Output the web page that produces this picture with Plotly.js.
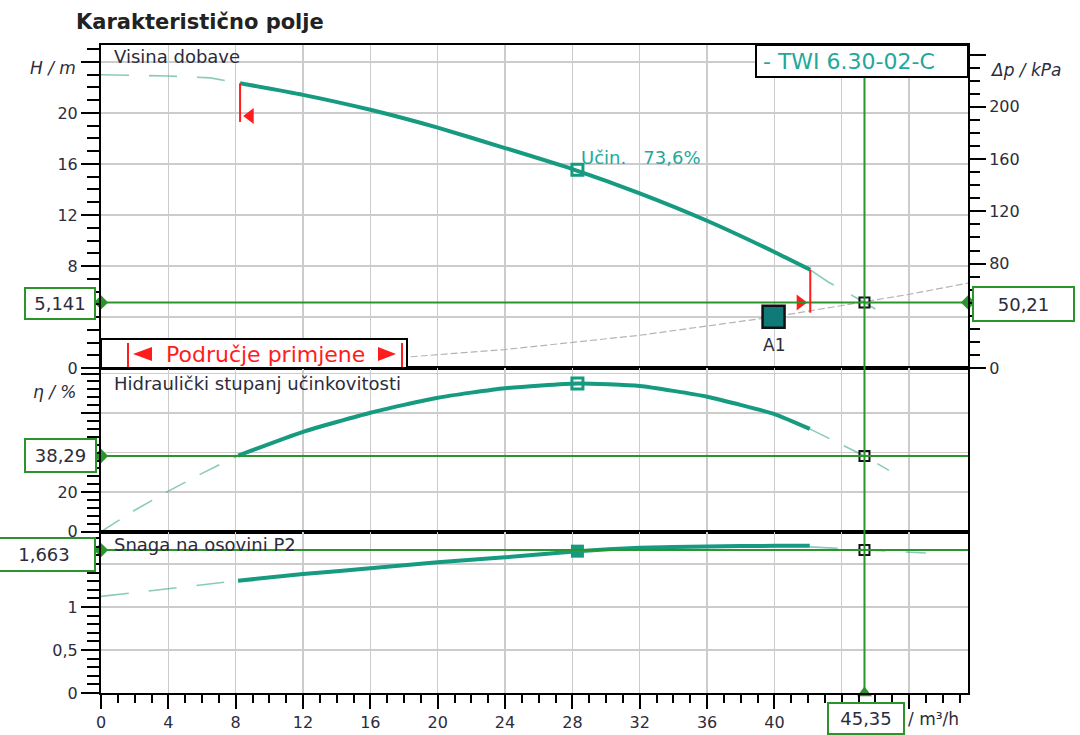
<!DOCTYPE html>
<html><head><meta charset="utf-8">
<script src="https://cdn.plot.ly/plotly-3.0.1.min.js"></script>
<style>html,body{margin:0;padding:0;background:#fff}#chart{width:1080px;height:735px}</style>
</head><body><div id="chart"></div>
<script>
// ---------- data ----------
const flowTicks = [0, 4, 8, 12, 16, 20, 24, 28, 32, 36, 40, 44, 48];
const flowTickText = ['0', '4', '8', '12', '16', '20', '24', '28', '32', '36', '40', '', ''];
const headTicks = [0, 4, 8, 12, 16, 20, 24];
const headTickText = ['0', '', '8', '12', '16', '20', ''];
const dpTicks = [0, 40, 80, 120, 160, 200, 240];
const dpTickText = ['0', '', '80', '120', '160', '200', ''];
const etaTicks = [0, 20, 40, 60, 80];
const etaTickText = ['0', '20', '', '', ''];
const powerTicks = [0, 0.5, 1, 1.5];
const powerTickText = ['0', '0,5', '1', ''];

// pump head curve H(Q)
const headQ = [8.26, 12, 16, 20, 24, 28, 32, 36, 40, 42.13];
const headH = [22.33, 21.42, 20.25, 18.85, 17.25, 15.6, 13.7, 11.55, 9.1, 7.7];
const headDashLeftQ = [0, 4, 6.5, 8.26];
const headDashLeftH = [23.0, 22.9, 22.75, 22.33];
const headDashRightQ = [42.13, 43.2, 45.35, 46.9];
const headDashRightH = [7.7, 6.75, 5.141, 3.9];

// system curve
const systemQ = [0, 8, 16, 24, 32, 40, 48, 51.5];
const systemH = [0, 0.16, 0.64, 1.45, 2.57, 4.02, 5.78, 6.66];

// hydraulic efficiency
const etaQ = [8.15, 12, 16, 20, 24, 28.3, 32, 36, 40, 42.1];
const etaV = [38.5, 50.5, 60.2, 67.8, 72.6, 75.0, 73.7, 68.3, 59.5, 52.0];
const etaDashLeftQ = [0, 2, 4, 6, 8.15];
const etaDashLeftV = [0, 10.8, 20.5, 29.5, 38.5];
const etaDashRightQ = [42.1, 45.35, 46.8];
const etaDashRightV = [52.0, 38.29, 31.0];

// shaft power P2
const powerQ = [8.14, 12, 16, 20, 24, 28.3, 32, 36, 40, 42.1];
const powerP = [1.306, 1.384, 1.45, 1.52, 1.578, 1.65, 1.69, 1.705, 1.712, 1.712];
const powerDashLeftQ = [0, 4, 8.14];
const powerDashLeftP = [1.124, 1.216, 1.306];
const powerDashRightQ = [42.1, 45.35, 49.0];
const powerDashRightP = [1.70, 1.663, 1.628];

// operating point, best point, A1, application range
const opQ = 45.35, opH = 5.141, opDp = 50.21, opEta = 38.29, opP = 1.663;
const bepQ = 28.3, bepH = 15.55, bepEta = 75.0, bepP = 1.65;
const bepLabel = 'Učin.\u00a0\u00a0 73,6%';
const a1Q = 39.95, a1H = 4.02;
const rangeMinQ = 8.26, rangeMaxQ = 42.13;
const rangeMinH = [19.3, 22.33], rangeMaxH = [4.34, 7.7];
const pumpName = '- TWI 6.30-02-C';
const rangeLabel = 'Područje primjene';
const dpPerM = opDp / opH;

// ---------- styling ----------
const TEAL = '#169a80', TEAL_D = 'rgba(40,160,130,0.55)', GREEN = '#2b952b', RED = '#ff1c1c';
const TXT = '#2c2c3c', FONT = 'DejaVu Sans, Verdana, sans-serif';
const W = 1080, H = 735, ML = 101, MR = 112, MT = 45, MB = 42;
const PW = W - ML - MR, PH = H - MT - MB;
const px = v => (v - ML) / PW;          // pixel -> paper x
const py = v => (H - MB - v) / PH;      // pixel -> paper y
const fmt = v => String(v).replace('.', ',');
const xMax = 51.5;
const topD = [0.5015, 1], midD = [0.249, 0.5015], botD = [0, 0.249];
const hMax = 25.33, etaMax = 82.8, pMax = 1.877;

const gridAx = {showgrid: true, gridcolor: '#cccccc', gridwidth: 1.5, zeroline: false,
  showline: true, linecolor: '#000', linewidth: 2, mirror: true, fixedrange: true,
  tickfont: {family: FONT, size: 16, color: TXT}, tickcolor: '#000', tickwidth: 2};
const yAx = (range, dom, tv, tt, md, anchor) => Object.assign({}, gridAx, {
  domain: dom, range: range, anchor: anchor, tickmode: 'array', tickvals: tv, ticktext: tt,
  ticks: 'outside', ticklen: 18,
  minor: {tickmode: 'linear', tick0: 0, dtick: md, ticks: 'outside', ticklen: 12, tickwidth: 2, tickcolor: '#000', showgrid: false}
});
const xAx = (anchor, show) => Object.assign({}, gridAx, {
  range: [0, xMax], anchor: anchor, domain: [0, 1], tickmode: 'array', tickvals: flowTicks,
  ticktext: flowTickText, showticklabels: show, ticks: show ? 'outside' : '', ticklen: 14,
  minor: show ? {tickmode: 'linear', tick0: 0, dtick: 1, ticks: 'outside', ticklen: 8, tickwidth: 2, tickcolor: '#000', showgrid: false} : undefined
});

const line = (x, y, xa, ya, dashed, extra) => Object.assign({
  type: 'scatter', mode: 'lines', x: x, y: y, xaxis: xa, yaxis: ya, hoverinfo: 'skip',
  line: dashed ? {color: TEAL_D, width: 1.6, dash: '28px,20px'} : {color: TEAL, width: 4, shape: 'spline', smoothing: 0.5}
}, extra || {});
const mk = (x, y, xa, ya, marker) => ({type: 'scatter', mode: 'markers', x: x, y: y, xaxis: xa, yaxis: ya,
  marker: marker, cliponaxis: false, hoverinfo: 'skip'});

const traces = [
  line(systemQ, systemH, 'x', 'y', false, {line: {color: '#b4b4b4', width: 1.2, dash: '7px,3px'}}),
  line(headDashLeftQ, headDashLeftH, 'x', 'y', true),
  line(headDashRightQ, headDashRightH, 'x', 'y', true),
  line(headQ, headH, 'x', 'y', false),
  mk([bepQ], [bepH], 'x', 'y', {symbol: 'square-open', size: 11, color: TEAL, line: {width: 3, color: TEAL}}),
  mk([a1Q], [a1H], 'x', 'y', {symbol: 'square', size: 22, color: '#0f7a78', line: {width: 2.5, color: '#111'}}),
  mk([rangeMinQ + 0.6], [19.76], 'x', 'y', {symbol: 'triangle-left', size: 14, color: RED}),
  mk([rangeMaxQ - 0.6], [opH], 'x', 'y', {symbol: 'triangle-right', size: 14, color: RED}),
  mk([xMax], [opDp], 'x', 'y4', {symbol: 'diamond', size: 11, color: GREEN}),
  line(etaDashLeftQ, etaDashLeftV, 'x2', 'y2', true, {line: {color: TEAL_D, width: 1.6, dash: '22px,16px'}}),
  line(etaDashRightQ, etaDashRightV, 'x2', 'y2', true, {line: {color: TEAL_D, width: 1.6, dash: '22px,16px'}}),
  line(etaQ, etaV, 'x2', 'y2', false),
  mk([bepQ], [bepEta], 'x2', 'y2', {symbol: 'square-open', size: 11, color: TEAL, line: {width: 3, color: TEAL}}),
  line(powerDashLeftQ, powerDashLeftP, 'x3', 'y3', true),
  line(powerDashRightQ, powerDashRightP, 'x3', 'y3', true),
  line(powerQ, powerP, 'x3', 'y3', false),
  mk([bepQ], [bepP], 'x3', 'y3', {symbol: 'square', size: 13, color: TEAL}),
  mk([0], [opH], 'x', 'y', {symbol: 'diamond', size: 11, color: GREEN}),
  mk([0], [opEta], 'x2', 'y2', {symbol: 'diamond', size: 11, color: GREEN}),
  mk([0], [opP], 'x3', 'y3', {symbol: 'diamond', size: 11, color: GREEN}),
  mk([opQ], [0], 'x3', 'y3', {symbol: 'triangle-up', size: 13, color: GREEN}),
  mk([opQ], [opH], 'x', 'y', {symbol: 'square-open', size: 10, color: '#111', line: {width: 2, color: '#111'}}),
  mk([opQ], [opEta], 'x2', 'y2', {symbol: 'square-open', size: 10, color: '#111', line: {width: 2, color: '#111'}}),
  mk([opQ], [opP], 'x3', 'y3', {symbol: 'square-open', size: 10, color: '#111', line: {width: 2, color: '#111'}})
];

// red arrow-head path in paper coordinates (pixel based)
const tri = (xTip, xBase, yc, hh) => 'M ' + px(xTip) + ' ' + py(yc) + ' L ' + px(xBase) + ' ' + py(yc - hh) +
  ' L ' + px(xBase) + ' ' + py(yc + hh) + ' Z';

const gl = {color: GREEN, width: 2};
const shapes = [
  {type: 'line', xref: 'x', yref: 'paper', x0: opQ, x1: opQ, y0: 0, y1: 1, line: gl, layer: 'above'},
  {type: 'line', xref: 'paper', yref: 'y', x0: 0, x1: 1, y0: opH, y1: opH, line: gl, layer: 'above'},
  {type: 'line', xref: 'paper', yref: 'y2', x0: 0, x1: 1, y0: opEta, y1: opEta, line: gl, layer: 'above'},
  {type: 'line', xref: 'paper', yref: 'y3', x0: 0, x1: 1, y0: opP, y1: opP, line: gl, layer: 'above'},
  {type: 'line', xref: 'x', yref: 'y', x0: rangeMinQ, x1: rangeMinQ, y0: rangeMinH[0], y1: rangeMinH[1], line: {color: RED, width: 2}, layer: 'above'},
  {type: 'line', xref: 'x', yref: 'y', x0: rangeMaxQ, x1: rangeMaxQ, y0: rangeMaxH[0], y1: rangeMaxH[1], line: {color: RED, width: 2}, layer: 'above'},
  {type: 'rect', xref: 'paper', yref: 'paper', x0: 0, x1: px(407), y0: py(368), y1: py(339), fillcolor: '#fff', line: {color: '#000', width: 2}, layer: 'above'},
  {type: 'line', xref: 'paper', yref: 'paper', x0: px(128), x1: px(128), y0: py(367), y1: py(343), line: {color: RED, width: 2}, layer: 'above'},
  {type: 'line', xref: 'paper', yref: 'paper', x0: px(402), x1: px(402), y0: py(367), y1: py(343), line: {color: RED, width: 2}, layer: 'above'},
  {type: 'path', xref: 'paper', yref: 'paper', path: tri(133, 152, 354, 7), fillcolor: RED, line: {width: 0, color: RED}, layer: 'above'},
  {type: 'path', xref: 'paper', yref: 'paper', path: tri(396, 378, 354, 7), fillcolor: RED, line: {width: 0, color: RED}, layer: 'above'},
  {type: 'rect', xref: 'paper', yref: 'paper', x0: px(756), x1: 1, y0: py(77), y1: 1, fillcolor: '#fff', line: {color: '#000', width: 2}, layer: 'above'}
];

const txt = (text, x, y, xa, ya, opts) => Object.assign({text: text, x: x, y: y, xref: 'paper', yref: 'paper',
  xanchor: xa, yanchor: ya, showarrow: false, font: {family: FONT, size: 18, color: TXT}}, opts || {});
const box = (text, cx, cy, w, h) => txt(text, px(cx), py(cy), 'center', 'middle',
  {width: w, height: h, bordercolor: GREEN, borderwidth: 2, borderpad: 0, bgcolor: '#fff'});

const annotations = [
  txt('<b>Karakteristično polje</b>', px(74), py(22), 'left', 'middle', {font: {family: FONT, size: 21, color: '#222'}}),
  txt('Visina dobave', px(112), py(57), 'left', 'middle', {font: {family: FONT, size: 18, color: TXT}}),
  txt('Hidraulički stupanj učinkovitosti', px(112), py(383), 'left', 'middle', {font: {family: FONT, size: 18, color: TXT}}),
  txt('Snaga na osovini P2', px(112), py(544), 'left', 'middle', {font: {family: FONT, size: 18, color: TXT}}),
  txt('<i>H / m</i>', px(78), py(68), 'right', 'middle', {font: {family: FONT, size: 17, color: TXT}}),
  txt('<i>η / %</i>', px(78), py(392), 'right', 'middle', {font: {family: FONT, size: 17, color: TXT}}),
  txt('<i>Δp / kPa</i>', px(988), py(70), 'left', 'middle', {font: {family: FONT, size: 17, color: TXT}}),
  txt('/ m³/h', px(906), py(719), 'left', 'middle', {font: {family: FONT, size: 17, color: TXT}}),
  txt(pumpName, px(761), py(61), 'left', 'middle', {font: {family: FONT, size: 22, color: '#22a89a'}}),
  txt(bepLabel, bepQ + 0.1, bepH + 0.95, 'left', 'middle', {xref: 'x', yref: 'y', font: {family: FONT, size: 18, color: '#22a89a'}}),
  txt('A1', a1Q, a1H - 2.2, 'center', 'middle', {xref: 'x', yref: 'y', font: {family: FONT, size: 17, color: TXT}}),
  txt(rangeLabel, px(265), py(354), 'center', 'middle', {font: {family: FONT, size: 22, color: RED}}),
  box(fmt(opH), 60, 303.5, 68, 29),
  box(fmt(opDp), 1023.5, 304, 99, 32),
  box(fmt(opEta), 60.5, 455.5, 69, 31),
  box(fmt(opP), 44, 554.5, 100, 31),
  box(fmt(opQ), 866, 718, 74, 29)
];

const layout = {
  width: W, height: H, margin: {l: ML, r: MR, t: MT, b: MB, pad: 0},
  paper_bgcolor: '#fff', plot_bgcolor: '#fff', showlegend: false, hovermode: false,
  font: {family: FONT, color: TXT},
  xaxis: xAx('y', false),
  xaxis2: xAx('y2', false),
  xaxis3: xAx('y3', true),
  yaxis: yAx([0, hMax], topD, headTicks, headTickText, 1, 'x'),
  yaxis2: yAx([0, etaMax], midD, etaTicks, etaTickText, 4, 'x2'),
  yaxis3: yAx([0, pMax], botD, powerTicks, powerTickText, 0.1, 'x3'),
  yaxis4: Object.assign({}, yAx([0, hMax * dpPerM], topD, dpTicks, dpTickText, 10, 'x'),
    {overlaying: 'y', side: 'right', showgrid: false, mirror: false, ticklen: 16,
     minor: {tickmode: 'linear', tick0: 0, dtick: 10, ticks: 'outside', ticklen: 10, tickwidth: 2, tickcolor: '#000', showgrid: false}}),
  shapes: shapes,
  annotations: annotations
};

Plotly.newPlot('chart', traces, layout, {displayModeBar: false, staticPlot: true});
</script></body></html>
